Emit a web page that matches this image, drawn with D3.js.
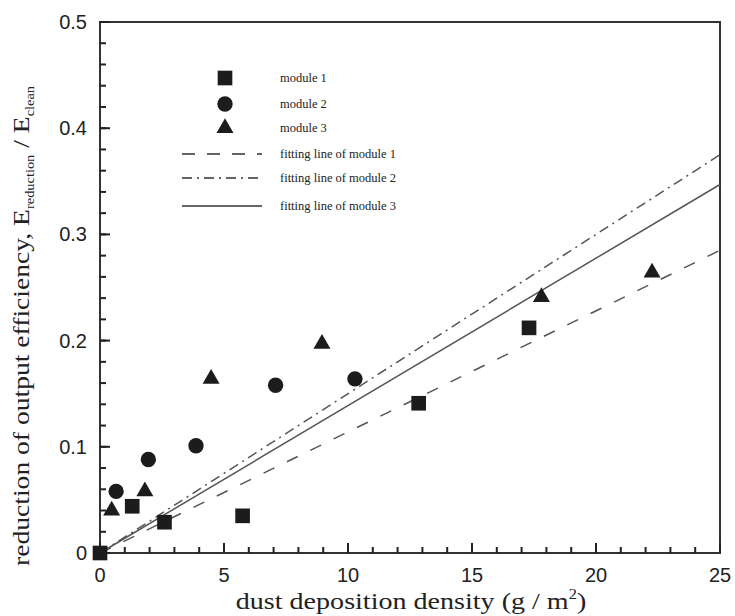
<!DOCTYPE html>
<html>
<head>
<meta charset="utf-8">
<script src="https://d3js.org/d3.v7.min.js"></script>
<style>
  body { margin: 0; background: #fff; }
  svg { display: block; }
</style>
</head>
<body>
<svg width="735" height="616"></svg>
<script>
// module measurements (x: dust density g/m2, y: reduction ratio)
var m1x = [0, 1.3, 2.6, 5.75, 12.85, 17.3];
var m1y = [0, 0.044, 0.029, 0.035, 0.141, 0.212];
var m2x = [0.65, 1.95, 3.87, 7.08, 10.28];
var m2y = [0.058, 0.088, 0.101, 0.158, 0.164];
var m3x = [0.47, 1.81, 4.48, 8.95, 17.8, 22.26];
var m3y = [0.040, 0.058, 0.164, 0.197, 0.241, 0.264];

// fitting lines, end points
var fitX = [0, 25];
var fit1 = [0, 0.285];
var fit2 = [0, 0.375];
var fit3 = [0, 0.347];

var xTicks = [0, 5, 10, 15, 20, 25];
var yTicks = [0, 0.1, 0.2, 0.3, 0.4, 0.5];
var xMinor = d3.range(1, 25);
var yMinor = d3.range(1, 25).map(d => d * 0.02);
var legendLabels = ["module 1", "module 2", "module 3",
  "fitting line of module 1", "fitting line of module 2", "fitting line of module 3"];

var svg = d3.select("svg"),
    margin = {top: 22, right: 15, bottom: 63, left: 100},
    width = +svg.attr("width") - margin.left - margin.right,
    height = +svg.attr("height") - margin.top - margin.bottom;

var g = svg.append("g").attr("transform", "translate(" + margin.left + "," + margin.top + ")");

var x = d3.scaleLinear().domain([0, 25]).range([0, width]);
var y = d3.scaleLinear().domain([0, 0.5]).range([height, 0]);

var axisColor = "#333";
var sans = "Liberation Sans, Arial, sans-serif";
var serif = "Liberation Serif, Times New Roman, serif";

// frame
g.append("rect")
    .attr("width", width).attr("height", height)
    .attr("fill", "none").attr("stroke", axisColor).attr("stroke-width", 2);

// tick marks, pointing inward (left and bottom only)
var tickW = 2;
g.selectAll(".xmaj").data(xTicks).enter().append("rect").attr("class", "xmaj")
    .attr("x", d => x(d) - tickW / 2).attr("y", height - 10).attr("width", tickW).attr("height", 10)
    .attr("fill", "#222");
g.selectAll(".xmin").data(xMinor).enter().append("rect").attr("class", "xmin")
    .attr("x", d => x(d) - tickW / 2).attr("y", height - 6).attr("width", tickW).attr("height", 6)
    .attr("fill", "#222");
g.selectAll(".ymaj").data(yTicks).enter().append("rect").attr("class", "ymaj")
    .attr("x", 0).attr("y", d => y(d) - tickW / 2).attr("width", 10).attr("height", tickW)
    .attr("fill", "#222");
g.selectAll(".ymin").data(yMinor).enter().append("rect").attr("class", "ymin")
    .attr("x", 0).attr("y", d => y(d) - tickW / 2).attr("width", 6).attr("height", tickW)
    .attr("fill", "#222");

// tick labels
g.selectAll(".xl").data(xTicks).enter().append("text")
    .attr("x", d => x(d)).attr("y", height + 29)
    .attr("text-anchor", "middle")
    .attr("font-family", sans).attr("font-size", 20).attr("fill", "#222")
    .text(d3.format("d"));
g.selectAll(".yl").data(yTicks).enter().append("text")
    .attr("x", -13).attr("y", d => y(d) + 7)
    .attr("text-anchor", "end")
    .attr("font-family", sans).attr("font-size", 20).attr("fill", "#222")
    .text(d => d === 0 ? "0" : d3.format(".1f")(d));

// fitting lines
var line = d3.line().x(d => x(d[0])).y(d => y(d[1]));
var lineStyles = [
  {vals: fit1, dash: "12,14"},
  {vals: fit2, dash: "10,5,2,5"},
  {vals: fit3, dash: null}
];
lineStyles.forEach(s => {
  g.append("path")
    .datum(fitX.map((v, i) => [v, s.vals[i]]))
    .attr("d", line)
    .attr("fill", "none")
    .attr("stroke", "#555")
    .attr("stroke-width", 1.5)
    .attr("stroke-dasharray", s.dash);
});

// markers
var markColor = "#1c1c1c";
var sq = d3.symbol().type(d3.symbolSquare).size(215);
var ci = d3.symbol().type(d3.symbolCircle).size(185);
var tr = d3.symbol().type(d3.symbolTriangle).size(125);

g.selectAll(".m1").data(m1x.map((v, i) => [v, m1y[i]])).enter().append("path")
    .attr("d", sq()).attr("fill", markColor)
    .attr("transform", d => "translate(" + x(d[0]) + "," + y(d[1]) + ")");
g.selectAll(".m2").data(m2x.map((v, i) => [v, m2y[i]])).enter().append("path")
    .attr("d", ci()).attr("fill", markColor)
    .attr("transform", d => "translate(" + x(d[0]) + "," + y(d[1]) + ")");
g.selectAll(".m3").data(m3x.map((v, i) => [v, m3y[i]])).enter().append("path")
    .attr("d", tr()).attr("fill", markColor)
    .attr("transform", d => "translate(" + x(d[0]) + "," + y(d[1]) + ")");

// legend
var legend = svg.append("g").attr("transform", "translate(180,78)");
var rowY = [0, 26, 50, 76, 100, 128];
var symbols = [sq, ci, tr];
legendLabels.forEach((lab, i) => {
  var row = legend.append("g").attr("transform", "translate(0," + rowY[i] + ")");
  if (i < 3) {
    row.append("path").attr("d", symbols[i]()).attr("fill", markColor)
      .attr("transform", "translate(45,0)");
  } else {
    var st = lineStyles[i - 3];
    row.append("line").attr("x1", 2).attr("x2", 82).attr("y1", 0).attr("y2", 0)
      .attr("stroke", "#333").attr("stroke-width", 1.5)
      .attr("stroke-dasharray", i === 3 ? "13,12" : st.dash);
  }
  row.append("text").attr("x", 100).attr("y", 4)
    .attr("font-family", serif)
    .attr("font-size", 12.5).attr("fill", "#222")
    .text(lab);
});

// axis titles (the original type is slightly wide, so stretch it a little)
var xt = svg.append("g")
    .attr("transform", "translate(411,609) scale(1.17,1)")
  .append("text")
    .attr("text-anchor", "middle")
    .attr("font-family", serif).attr("font-size", 24).attr("fill", "#222");
xt.append("tspan").text("dust deposition density (g / m");
xt.append("tspan").attr("font-size", 14).attr("dy", -10).text("2");
xt.append("tspan").attr("dy", 10).text(")");

var yt = svg.append("g")
    .attr("transform", "translate(29,326) rotate(-90) scale(1.2,1)")
  .append("text")
    .attr("text-anchor", "middle")
    .attr("font-family", serif).attr("font-size", 23).attr("fill", "#222");
yt.append("tspan").text("reduction of output efficiency, E");
yt.append("tspan").attr("font-size", 12).attr("dy", 5).text("reduction");
yt.append("tspan").attr("dy", -5).text(" / E");
yt.append("tspan").attr("font-size", 12).attr("dy", 5).text("clean");
</script>
</body>
</html>
